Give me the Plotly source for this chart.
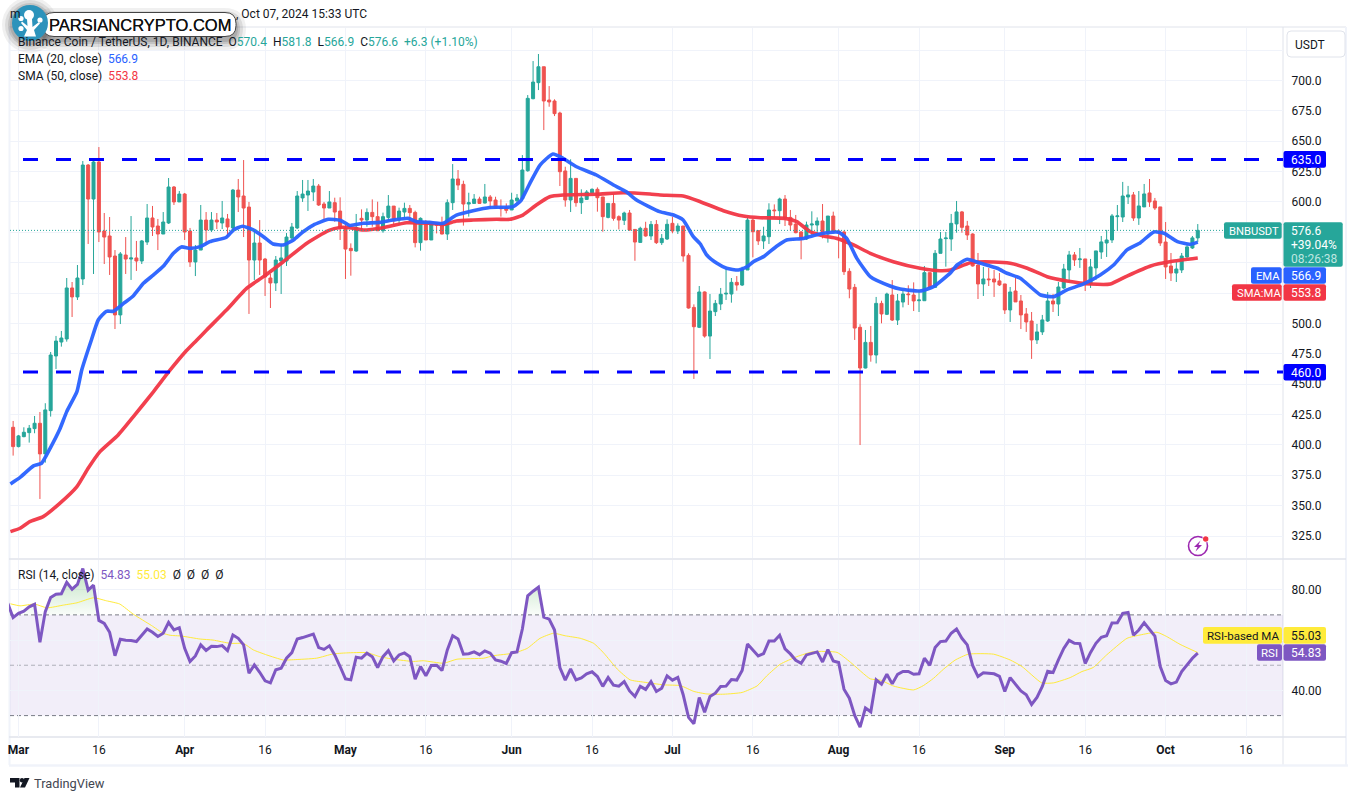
import numpy as np
import pandas as pd
import plotly.graph_objects as go

# ---------- data ----------
first_candle_day = -1          # days after 2024-03-01
opens = [
 414.5,398.6,406.8,410.1,413.4,417.8,392.6,428.2,473.2,484.7,
 487.2,529.2,521.8,536.6,630.4,602.4,632.9,576.1,572.0,555.5,
 507.0,556.3,553.0,553.9,551.4,567.0,586.8,580.2,573.6,582.7,
 612.3,600.0,606.5,576.1,550.6,560.4,585.1,576.9,585.1,582.7,
 586.0,578.6,609.8,604.9,595.8,552.2,566.2,553.0,537.4,533.3,
 551.4,551.4,570.3,578.6,603.3,605.7,608.2,613.1,598.3,595.0,
 599.4,592.5,578.3,561.8,559.6,586.5,585.1,591.4,587.9,576.3,
 587.3,596.6,585.1,591.7,594.7,591.4,566.5,581.5,568.7,581.5,
 581.0,573.6,599.4,618.9,614.5,598.3,598.8,602.4,599.1,604.1,
 601.6,595.3,595.3,593.4,601.0,602.7,625.7,685.0,698.2,711.3,
 683.9,683.1,673.2,625.5,601.6,619.4,599.4,602.1,607.6,610.4,
 604.1,587.3,598.8,587.9,584.9,590.9,577.4,566.7,578.3,572.0,
 581.5,566.5,569.5,582.4,576.1,580.2,556.0,513.2,496.8,525.9,
 489.6,509.7,516.0,524.2,524.2,533.8,531.6,544.0,585.1,576.4,
 567.9,571.4,593.4,592.8,602.4,587.3,581.8,575.3,569.5,581.0,
 581.0,584.3,573.6,588.4,576.1,575.3,542.9,529.7,496.8,463.3,
 484.4,474.0,516.5,507.5,523.4,502.8,517.6,524.2,523.4,518.7,
 518.7,541.8,529.7,557.7,569.8,569.5,581.9,591.8,580.2,573.6,
 548.1,532.5,536.6,536.6,535.0,532.5,511.1,526.7,518.5,507.8,
 502.0,486.4,493.0,502.0,518.5,516.0,529.2,544.0,556.4,552.5,
 553.1,532.5,545.7,558.8,566.2,568.7,587.9,587.6,604.1,605.8,
 586.8,595.9,607.4,600.8,595.9,567.0,547.3,541.5,544.0,554.7,562.1,570.4]
closes = [
 398.6,407.4,410.4,413.7,417.8,392.6,428.8,474.0,485.5,488.0,
 529.2,521.8,537.4,630.4,602.4,632.9,575.3,571.1,554.7,507.0,
 557.2,553.0,553.9,551.4,567.9,586.8,579.4,573.6,583.5,612.3,
 600.0,606.5,575.3,550.6,560.4,585.1,576.9,585.1,583.5,586.8,
 579.4,609.8,604.1,595.0,552.2,566.2,552.2,538.2,533.3,552.2,
 553.9,571.1,579.4,604.9,606.5,609.0,613.1,597.5,595.0,600.0,
 591.7,578.8,561.2,559.9,579.1,585.1,591.4,587.9,576.3,587.9,
 596.6,585.1,592.5,594.7,591.2,566.5,586.5,568.7,581.5,581.0,
 573.6,599.4,618.9,613.9,598.3,599.4,602.4,598.8,604.1,600.8,
 594.7,594.5,593.1,601.6,603.2,626.3,685.3,698.7,711.3,683.1,
 682.3,672.7,624.9,601.6,619.4,599.4,603.2,608.2,610.4,603.5,
 587.9,598.8,586.5,585.1,590.9,576.9,567.0,578.3,572.0,581.5,
 566.5,570.0,581.6,576.1,580.2,555.5,512.7,497.3,525.9,489.6,
 510.2,516.5,524.0,524.8,533.8,531.6,544.8,585.1,575.5,567.9,
 572.0,593.4,592.8,602.4,586.5,581.0,574.7,569.2,581.0,581.8,
 584.3,573.6,588.4,575.5,574.7,542.6,528.3,496.2,463.3,484.4,
 474.0,516.5,507.8,524.2,502.8,518.5,524.2,523.7,518.5,519.3,
 541.8,529.7,557.7,569.5,570.3,582.4,591.8,579.1,572.8,547.3,
 532.5,536.6,536.0,534.1,531.7,511.1,525.9,517.7,507.0,501.2,
 486.4,493.0,502.9,518.5,516.0,530.0,544.8,556.4,552.3,553.1,
 532.5,546.5,559.7,567.1,568.7,588.5,588.5,604.9,605.8,586.8,
 596.7,606.6,600.0,595.0,566.2,546.5,541.5,544.8,555.5,563.0,570.4,576.6]
highs = [
 419.7,408.2,414.5,416.4,423.8,427.1,434.3,476.5,489.7,493.8,
 537.4,534.1,548.1,633.7,631.2,635.1,645.2,590.9,587.6,560.4,
 558.8,571.1,588.4,567.9,568.7,598.3,596.7,586.0,591.7,619.7,
 613.1,609.0,607.4,578.6,564.6,597.5,591.7,591.7,590.9,600.8,
 590.1,610.7,618.9,634.5,600.0,576.9,585.1,553.9,540.7,555.5,
 564.6,574.4,582.7,609.0,618.1,618.1,618.9,614.8,600.0,609.0,
 603.5,603.8,581.0,565.9,590.1,593.9,594.7,602.1,600.2,591.2,
 605.7,596.6,595.3,599.4,597.5,592.8,587.3,585.1,582.9,582.4,
 587.9,602.1,631.2,626.3,617.5,607.6,606.5,604.3,614.8,605.7,
 604.3,602.1,598.8,607.6,606.5,638.6,688.0,716.0,721.8,711.3,
 695.4,684.5,674.3,629.0,635.1,619.4,610.4,609.8,611.2,612.0,
 604.3,598.8,606.5,589.0,592.0,593.4,577.4,579.6,583.7,584.3,
 585.1,573.6,585.7,587.9,582.4,580.2,557.7,515.7,530.8,526.4,
 524.2,519.3,529.2,545.1,537.4,539.0,546.7,587.3,586.5,576.4,
 579.6,598.9,598.0,603.5,605.7,593.4,589.3,576.1,583.8,592.3,
 587.3,598.3,588.4,592.0,577.5,576.4,545.4,532.5,499.3,494.6,
 497.9,521.8,518.7,525.3,535.7,524.2,527.0,531.4,533.8,527.5,
 547.3,541.8,560.4,575.3,575.3,590.1,600.8,592.6,584.4,574.2,
 558.0,546.5,545.7,544.0,541.5,532.5,530.0,537.4,523.4,512.7,
 509.4,499.6,507.0,525.9,524.3,534.1,549.0,559.7,558.8,562.1,
 553.1,553.1,559.7,572.0,577.0,590.1,597.5,616.5,613.2,608.2,
 609.0,614.8,618.9,603.3,595.9,583.5,558.0,550.6,558.0,565.4,572.0,581.8]
lows = [
 391.2,398.0,406.3,401.9,409.6,355.5,385.4,423.3,462.5,480.9,
 485.0,505.3,519.3,531.6,565.4,540.7,567.0,548.9,539.9,495.4,
 499.5,540.7,535.8,543.2,548.9,564.6,572.0,560.4,573.6,581.9,
 597.5,600.0,568.7,546.5,539.0,560.4,564.6,575.3,577.7,577.7,
 571.1,576.9,591.7,571.1,507.8,535.8,539.9,522.6,512.7,526.7,
 524.2,547.3,569.5,577.7,600.0,592.6,600.8,596.7,585.1,595.0,
 583.7,568.7,536.6,539.3,559.0,577.4,579.6,579.6,576.3,574.7,
 585.1,581.0,581.0,586.5,583.7,562.6,559.9,568.7,568.7,574.1,
 573.3,568.7,593.4,609.8,580.5,587.9,598.8,598.3,598.8,594.2,
 594.2,587.9,590.6,593.4,598.8,601.6,624.9,684.5,692.1,659.2,
 678.4,670.7,613.1,596.1,591.7,596.1,590.1,601.6,607.0,592.0,
 575.5,586.5,584.6,577.4,581.0,576.3,551.6,566.7,571.4,568.7,
 565.4,564.6,568.7,574.2,573.6,550.8,512.2,454.3,496.2,488.3,
 470.7,506.1,511.0,519.3,517.1,527.0,530.8,544.0,554.4,564.6,
 561.3,565.4,587.3,581.8,580.2,576.4,574.2,552.8,568.7,572.8,
 574.2,570.0,566.5,574.2,553.6,539.9,520.7,486.4,399.9,463.0,
 468.5,467.1,500.1,506.9,502.0,498.7,513.2,515.2,510.2,509.4,
 518.7,529.2,529.7,557.7,546.7,559.7,574.7,574.7,568.7,546.8,
 520.1,522.6,530.8,521.8,530.8,507.8,501.2,517.7,495.4,493.0,
 470.8,483.1,490.5,501.2,509.4,506.1,528.4,534.1,547.3,545.7,
 526.7,529.2,535.8,553.1,554.7,566.2,576.1,583.5,598.3,584.4,
 581.1,595.9,595.9,593.4,563.8,536.6,534.9,534.1,541.5,553.9,561.3,566.9]

ema_days = [-1.5,0.3,2.8,4.3,5.9,7.7,9,10.9,11.8,13.6,14.9,16.4,17.7,19.6,21.4,23.3,25.2,27,28.9,30.4,32,33.9,35.7,38.8,40.1,41.8,43.8,45.7,47.5,49.4,51.3,53.1,55,57.8,60,61.8,64.3,67.4,69.9,72.7,74.2,76.7,79.2,81.7,84.8,87.9,92.3,93.8,95.4,97.3,99.7,101.6,104.1,107.8,111,113.4,115.3,119.6,122.2,124,125.9,127.2,128.4,130.3,132.1,134.3,135.9,137.1,139,141.5,143.3,146.4,149.5,153,154.5,156.4,158.9,162.6,164.5,168.2,170.7,173.9,175.1,177,179.5,182.6,184.4,186.9,190.7,193.1,195.6,198.7,201.8,204.3,206.8,209.3,211.8,213.7,216.2,218.6,220]
ema_vals = [367.9,373.3,382.7,384.9,397.2,412.9,427.4,443.9,461.7,486.4,503,510,510,516.5,522.6,533,540,547,557.7,563,561.8,563.2,567.3,571,577,580,577,571.4,565.4,564.6,568.7,575.5,581,585.7,585,580.7,582.4,583.2,585.1,586.5,583.8,583.2,582.4,589.2,592.8,595.5,596.1,601.6,615.3,630.4,639.5,635.9,629,622.2,614,608.4,601.6,592,589.3,585.1,571.4,565.4,556.3,549.5,545.4,544,546.7,550.8,555,563.7,568.7,570,573.6,575,570,553.6,538.5,530.8,528.3,526.7,530.3,541.8,548.1,552.8,549.5,545.4,541.3,537.2,523.4,522,527.6,532.5,539.9,548.1,560.5,566.5,575.3,574.2,567.3,565.1,566.9]
sma_days = [-1.5,0.3,2.1,4.6,7.7,10.9,13,15.2,18.6,21.7,25.2,28.3,31.1,33.2,35.1,38.8,42.6,45.7,49.4,53.8,57.8,60,61.8,64.3,68,72.4,76.7,79.5,81.7,84.8,89.2,91.7,94.1,96.6,99.1,101.6,107.8,112.8,117.8,119.7,124,127.2,131.5,135.2,138.4,143,145.2,147.7,150.2,152.7,155.8,158.9,163.2,168.2,171.9,173.9,177.6,181.9,185,188.2,191.9,195.6,200,203.7,206.8,211.2,215,220]
sma_vals = [328.6,331.4,336.8,341,351.9,365.7,380.8,394.5,408.2,424.7,443.9,461.7,476.5,486,494.6,511,529,538.5,550.8,566,576.4,579,578.8,576.9,578.8,582.9,582.4,581.6,584.3,585.1,585.7,585.7,589.2,597.5,604.3,605.7,606.3,607.6,606.5,605.7,604.9,600.2,592.8,588.4,587,586.5,583.8,575.5,572,570,564.6,557.7,550.8,545.4,543.4,544,550,550.6,549.5,545.4,538.5,535,532.5,532.5,539,547.3,550.9,553.8]

first_rsi_day = -2
rsi_vals = [
 74.6,68.9,70.6,71.5,73.2,74.2,59.1,71.3,76.9,78.2,78.4,82.9,80.2,82.1,88.4,79.8,81.8,67.8,66.6,63.1,
 53.8,60.3,59.9,59.8,59.4,62,64.4,63.1,61.4,62.7,67,64,64.9,56.7,51.5,53.7,58.1,55.9,57.5,57.4,
 57.8,55.8,62,60.7,58.1,46.8,50.1,47.2,43.8,43,48.2,48.8,52.8,55,60.4,61,61.6,62.4,57,56.3,
 57.7,54.1,49.5,44.6,44.2,53.2,52.8,54.8,53.4,49.1,53.4,55.8,51.7,54.1,54.9,53.4,44.5,49.5,45.8,49.9,
 50,47.9,56.1,61.7,60.4,54.4,54.6,55.3,54.2,55.7,54.8,52.1,51.6,50.7,55,55.3,64.4,77.6,79.4,81,
 69.1,68.3,64,49.1,44.1,48.5,44.2,45,46.6,47.4,45.5,41.6,45.1,42.1,41.7,43.5,39.8,37.6,41.6,40.4,
 43.5,39.6,40.9,45.8,44.1,45.2,38.3,29.3,26.8,37.2,31.3,37.6,38.9,41.6,41.7,44.3,44.1,47.9,58.4,56.1,
 53.7,54.6,59.6,59.6,61.9,56.5,54.5,52,50.8,54.1,54.6,55.3,51.3,56.2,51.7,51.1,40.5,36.9,30.1,25.4,
 33,31.5,44.2,42.5,46.4,42.6,46.4,47.5,47.5,46.4,46.6,52.8,50,57,59.4,59.6,62.7,64.4,60.7,58.1,
 49.9,45.5,47,46.8,46.6,45.6,39.6,45.1,42.6,39.8,38.3,34.4,37.2,41.6,47.6,47.1,52.1,56.7,59.9,58.7,
 58.6,50.7,55.1,58.7,61.1,61.7,66.8,66.9,70.6,71,61.9,64,66.9,64,61.6,49.5,43.9,42.6,43.3,47.5,
 50.1,52.8,54.83]
rsi_ma_days = [-1.5,0.3,3,5.3,8.4,10.9,14,16.4,18.9,21.4,24.8,27,28.3,30.4,33.9,36.3,39.5,42,43.8,46.3,49.4,51.3,55.6,58.7,61.2,65,67.4,69.9,73.7,75.5,79.3,81.8,86.8,88.6,92.4,94.9,97.3,99.8,102,104.8,107.3,109.2,111.7,114.1,116.6,120.4,123.5,126,128.4,131.6,135,137.8,139.6,142.1,145.2,148.3,152.7,155.2,158.9,160.8,163.3,167,168.8,170.7,172.6,174.7,177.2,181.9,185,187.2,190.9,193.1,196.2,198.4,200.5,203,206.8,209.2,212.4,214.2,216.7,220]
rsi_ma_vals = [74.4,73.6,74.3,72.8,73.9,74.8,76.8,75.6,74.3,70.3,65.8,62.7,61.9,61.6,60.4,60,58.7,58.6,56.1,54.1,52.1,52.2,52.8,54.5,54.9,55,53.4,52.4,51.5,51.8,50.8,52.4,52.8,53.8,54.8,56.7,60.7,62.7,61.7,60.7,58.7,54.8,48.5,44.2,43.3,42.2,41.9,39.6,38.6,38.5,39.2,41.8,45.8,50.4,53.4,55.4,55.1,51.2,44.6,44.1,41.7,40.2,41.9,44.8,48.5,52,54.4,54.4,52.1,49.5,43,43,45.1,47.5,49.1,54.1,60.7,62,63.1,61.4,58.3,55.03]

levels = [635.0, 460.0]
last_close = 576.6
price_ticks = list(range(325, 750, 25))
hidden_price_ticks = [525, 550, 575, 725]
rsi_ticks = [40, 60, 80]
rsi_tick_labels = ["40.00", "", "80.00"]
date_ticks = ["2024-03-01","2024-03-16","2024-04-01","2024-04-16","2024-05-01","2024-05-16","2024-06-01","2024-06-16","2024-07-01","2024-07-16","2024-08-01","2024-08-16","2024-09-01","2024-09-16","2024-10-01","2024-10-16"]
date_tick_labels = ["<b>Mar</b>","16","<b>Apr</b>","16","<b>May</b>","16","<b>Jun</b>","16","<b>Jul</b>","16","<b>Aug</b>","16","<b>Sep</b>","16","<b>Oct</b>","16"]

# ---------- helpers ----------
W, H = 1358, 800
FONT = "Roboto"
INK = "#131722"
GREEN, RED = "#26a69a", "#ef5350"
BLUE, SMA_RED, PURPLE, YELLOW = "#2962ff", "#f23645", "#7e57c2", "#ffeb3b"
GRID = "#f0f3fa"
EDGE = "#e0e3eb"
BASE = pd.Timestamp("2024-03-01")

def day(d):
    return BASE + pd.to_timedelta(d, unit="D")
def X(x):
    return x / W
def Y(y):
    return 1 - y / H

candle_dates = [day(first_candle_day + i) for i in range(len(opens))]
rsi_dates = [day(first_rsi_day + i) for i in range(len(rsi_vals))]
x_range = [day(-1.77), day(235.9)]

shapes, annotations = [], []

def rrect(x0, y0, x1, y1, fill, r=2, line=None, lw=1):
    p = (f"M {X(x0+r)} {Y(y0)} L {X(x1-r)} {Y(y0)} Q {X(x1)} {Y(y0)} {X(x1)} {Y(y0+r)} "
         f"L {X(x1)} {Y(y1-r)} Q {X(x1)} {Y(y1)} {X(x1-r)} {Y(y1)} L {X(x0+r)} {Y(y1)} "
         f"Q {X(x0)} {Y(y1)} {X(x0)} {Y(y1-r)} L {X(x0)} {Y(y0+r)} Q {X(x0)} {Y(y0)} {X(x0+r)} {Y(y0)} Z")
    shapes.append(dict(type="path", path=p, xref="paper", yref="paper", fillcolor=fill,
                       line=dict(color=line or "rgba(0,0,0,0)", width=lw), layer="above"))

def pline(x0, y0, x1, y1, color, w=1, layer="below"):
    shapes.append(dict(type="line", xref="paper", yref="paper", x0=X(x0), y0=Y(y0), x1=X(x1), y1=Y(y1),
                       line=dict(color=color, width=w), layer=layer))

def circle(cx, cy, r, fill, line=None, lw=0):
    shapes.append(dict(type="circle", xref="paper", yref="paper", x0=X(cx-r), x1=X(cx+r), y0=Y(cy-r), y1=Y(cy+r),
                       fillcolor=fill, line=dict(color=line or "rgba(0,0,0,0)", width=lw), layer="above"))

def poly(points, fill):
    p = "M " + " L ".join(f"{X(a)} {Y(b)}" for a, b in points) + " Z"
    shapes.append(dict(type="path", path=p, xref="paper", yref="paper", fillcolor=fill,
                       line=dict(color="rgba(0,0,0,0)", width=0), layer="above"))

def label(x, y, text, color=INK, size=12, anchor="left", family=FONT):
    annotations.append(dict(xref="paper", yref="paper", x=X(x - 1), y=Y(y), text=text, showarrow=False,
                            xanchor=anchor, yanchor="middle", align=anchor,
                            font=dict(family=family, size=size, color=color), borderpad=0))

# ---------- traces ----------
fig = go.Figure()
fig.add_trace(go.Candlestick(
    x=candle_dates, open=opens, high=highs, low=lows, close=closes, xaxis="x", yaxis="y",
    whiskerwidth=0, hoverinfo="skip", showlegend=False,
    increasing=dict(line=dict(color=GREEN, width=1), fillcolor=GREEN),
    decreasing=dict(line=dict(color=RED, width=1), fillcolor=RED)))
fig.add_trace(go.Scatter(x=[day(d) for d in sma_days], y=sma_vals, mode="lines", xaxis="x", yaxis="y",
                         line=dict(color=SMA_RED, width=3.6, shape="spline", smoothing=0.5),
                         opacity=0.95, hoverinfo="skip", showlegend=False))
fig.add_trace(go.Scatter(x=[day(d) for d in ema_days], y=ema_vals, mode="lines", xaxis="x", yaxis="y",
                         line=dict(color=BLUE, width=3.6, shape="spline", smoothing=0.5),
                         opacity=0.95, hoverinfo="skip", showlegend=False))
# overbought glow between 70 and the RSI
fig.add_trace(go.Scatter(x=rsi_dates, y=[70] * len(rsi_dates), mode="lines", xaxis="x2", yaxis="y2",
                         line=dict(width=0, color="rgba(0,0,0,0)"), hoverinfo="skip", showlegend=False))
fig.add_trace(go.Scatter(x=rsi_dates, y=np.maximum(rsi_vals, 70), mode="lines", xaxis="x2", yaxis="y2",
                         line=dict(width=0, color="rgba(0,0,0,0)"), fill="tonexty",
                         fillgradient=dict(type="vertical", start=88, stop=70,
                                           colorscale=[[0, "rgba(76,175,80,0.35)"], [1, "rgba(76,175,80,0.03)"]]),
                         hoverinfo="skip", showlegend=False))
fig.add_trace(go.Scatter(x=[day(d) for d in rsi_ma_days], y=rsi_ma_vals, mode="lines", xaxis="x2", yaxis="y2",
                         line=dict(color=YELLOW, width=1, shape="spline", smoothing=0.5),
                         hoverinfo="skip", showlegend=False))
fig.add_trace(go.Scatter(x=rsi_dates, y=rsi_vals, mode="lines", xaxis="x2", yaxis="y2",
                         line=dict(color=PURPLE, width=3), hoverinfo="skip", showlegend=False))

# ---------- frame ----------
pline(9, 27, 1346, 27, EDGE, 1)
pline(9.5, 27, 9.5, 765, GRID, 2)
pline(1283, 27, 1283, 765, EDGE, 1)
pline(1346, 27, 1346, 765, GRID, 2)
pline(9, 559, 1346, 559, EDGE, 1.5)
pline(9, 737, 1346, 737, EDGE, 1.5)
pline(9, 765.5, 1348, 765.5, GRID, 2.5)

# RSI band and guides
shapes.append(dict(type="rect", xref="paper", yref="y2", x0=X(10), x1=X(1283), y0=30, y1=70,
                   fillcolor="rgba(126,87,194,0.1)", line=dict(width=0), layer="below"))
for v, c in [(70, "#787b86"), (50, "rgba(120,123,134,0.55)"), (30, "#787b86")]:
    shapes.append(dict(type="line", xref="paper", yref="y2", x0=X(10), x1=X(1283), y0=v, y1=v,
                       line=dict(color=c, width=1, dash="4px,3px"), layer="below"))

# last price dotted line and blue horizontal levels
shapes.append(dict(type="line", xref="paper", yref="y", x0=X(10), x1=X(1224), y0=last_close, y1=last_close,
                   line=dict(color=GREEN, width=1, dash="1px,2px"), layer="above"))
for lv in levels:
    shapes.append(dict(type="line", xref="paper", yref="y", x0=X(23), x1=X(1283), y0=lv, y1=lv,
                       line=dict(color="#0000ff", width=3, dash="15px,18px"), layer="above"))

# ---------- right side labels ----------
rrect(1287, 31, 1345, 57, "rgba(255,255,255,0)", r=4, line=EDGE, lw=1)
label(1295, 44.5, "USDT")

def val_box(y0, y1, fill, text, color="#ffffff"):
    rrect(1283.5, y0, 1326, y1, fill)
    label(1291, (y0 + y1) / 2 + 0.5, text, color)

val_box(151, 167.7, "#0000ff", "635.0")
val_box(364, 380.5, "#0000ff", "460.0")
rrect(1224, 222.3, 1281.7, 238.7, GREEN)
label(1229, 231, "BNBUSDT", "#ffffff", 11.2)
rrect(1283.5, 222.3, 1342.7, 266.7, GREEN)
label(1291, 231, "576.6", "#ffffff")
label(1291, 245, "+39.04%", "#ffffff")
label(1291, 259, "08:26:38", "#bfe6e1")
rrect(1251, 267.3, 1281.7, 283.7, BLUE)
label(1256, 276, "EMA", "#ffffff", 11.2)
val_box(267.3, 283.7, BLUE, "566.9")
rrect(1232, 284.3, 1281.7, 300.7, SMA_RED)
label(1237, 293, "SMA:MA", "#ffffff", 11.2)
val_box(284.3, 300.7, SMA_RED, "553.8")
rrect(1203, 627, 1282, 643.7, YELLOW)
label(1207, 636, "RSI-based MA", INK, 11.5)
val_box(627, 643.7, YELLOW, "55.03", INK)
rrect(1257, 644.3, 1282, 660.7, PURPLE)
label(1261, 653, "RSI", "#ffffff", 11.5)
val_box(644.3, 660.7, PURPLE, "54.83")

# ---------- legends ----------
TEAL = GREEN
def s(txt, col):
    return f'<span style="color:{col}">{txt}</span>'
label(18, 42, "Binance Coin / TetherUS, 1D, BINANCE  O" + s("570.4", TEAL) + "  H" + s("581.8", TEAL) +
      "  L" + s("566.9", TEAL) + "  C" + s("576.6", TEAL) + "  " + s("+6.3 (+1.10%)", TEAL))
label(18, 59, "EMA (20, close) " + s(" 566.9", BLUE))
label(18, 76, "SMA (50, close) " + s(" 553.8", SMA_RED))
label(18, 575, "RSI (14, close)  " + s("54.83", PURPLE) + "  " + s("55.03", YELLOW) + "  Ø  Ø  Ø  Ø")
label(10, 14, "m")
label(236, 14.5, ", Oct 07, 2024 15:33 UTC")

# ---------- watermark ----------
for grow, alpha in [(10, 0.07), (7, 0.10), (4, 0.13), (2, 0.15)]:
    rrect(42 - grow, 14 - grow + 4, 236 + grow, 37 + grow + 3, f"rgba(40,40,40,{alpha})", r=12 + grow)
    circle(30, 25, 18 + grow, f"rgba(40,40,40,{alpha})")
rrect(43, 12.5, 236, 36.5, "#ffffff", r=11, line="#444444", lw=1)
circle(30, 23, 18, "#2c93bb")
circle(29, 15, 5, "#ffffff")
circle(21, 18.5, 2.6, "#ffffff")
circle(40, 20, 2.6, "#ffffff")
circle(21, 28.5, 2.6, "#ffffff")
poly([(27, 19), (32, 19), (32.5, 27), (39, 22), (40, 23.5), (34, 30), (36, 36.5), (24, 36.5), (27, 30), (21, 23), (22, 21.5), (27.5, 26)], "#ffffff")
label(49, 25, "PARSIANCRYPTO.COM", "#111111", 16.5, family="Liberation Sans")
label(49.4, 25, "PARSIANCRYPTO.COM", "#111111", 16.5, family="Liberation Sans")

# ---------- lightning icon ----------
circle(1198, 546, 9.5, "rgba(255,255,255,0)", "#9c27b0", 1.6)
poly([(1200.5, 540.5), (1194, 547), (1197.5, 547), (1195.5, 551.5), (1202, 545), (1198.5, 545)], "#9c27b0")
circle(1205.7, 539, 3.4, "#ffffff")
circle(1205.7, 539, 2.7, "#f23645")

# ---------- TradingView logo ----------
poly([(10, 778), (19.5, 778), (19.5, 787.5), (15, 787.5), (15, 782.5), (10, 782.5)], "#131722")
circle(22, 780.3, 2.2, "#131722")
poly([(24.5, 778), (29.5, 778), (25, 787.5), (20, 787.5)], "#131722")
label(33.5, 783, "TradingView", "#434651", 12.8)

# ---------- layout ----------
ptext = ["" if t in hidden_price_ticks else f"{t:.1f}" for t in price_ticks]
fig.update_layout(
    width=W, height=H, autosize=False, margin=dict(l=0, r=0, t=0, b=0),
    paper_bgcolor="#ffffff", plot_bgcolor="#ffffff", showlegend=False, boxgap=0.2,
    font=dict(family=FONT, size=12, color=INK),
    shapes=shapes, annotations=annotations,
    xaxis=dict(domain=[X(9), X(1283)], range=x_range, anchor="y", type="date",
               tickvals=date_ticks, ticktext=[""] * len(date_ticks), showgrid=True, gridcolor=GRID,
               gridwidth=1, zeroline=False, showline=False, ticks="", rangeslider=dict(visible=False)),
    xaxis2=dict(domain=[X(9), X(1283)], range=x_range, anchor="y2", type="date", matches="x",
                tickvals=date_ticks, ticktext=date_tick_labels, showgrid=True, gridcolor=GRID, gridwidth=1,
                zeroline=False, showline=False, ticks="outside", ticklen=2, tickcolor="rgba(0,0,0,0)",
                tickfont=dict(family=FONT, size=12, color=INK), tickangle=0),
    yaxis=dict(domain=[Y(558), Y(28)], range=[306.9, 743.2], side="right", anchor="x",
               tickvals=price_ticks, ticktext=ptext, showgrid=True, gridcolor=GRID, gridwidth=1,
               zeroline=False, showline=False, ticks="outside", ticklen=5, tickcolor="rgba(0,0,0,0)",
               tickfont=dict(family=FONT, size=12, color=INK)),
    yaxis2=dict(domain=[Y(737), Y(560)], range=[21.5, 91.8], side="right", anchor="x2",
                tickvals=rsi_ticks, ticktext=rsi_tick_labels, showgrid=True, gridcolor=GRID, gridwidth=1,
                zeroline=False, showline=False, ticks="outside", ticklen=5, tickcolor="rgba(0,0,0,0)",
                tickfont=dict(family=FONT, size=12, color=INK)),
)

fig.write_html("out.html", config=dict(displayModeBar=False),
               post_script="document.body.style.margin='0';document.documentElement.style.overflow='hidden';")
